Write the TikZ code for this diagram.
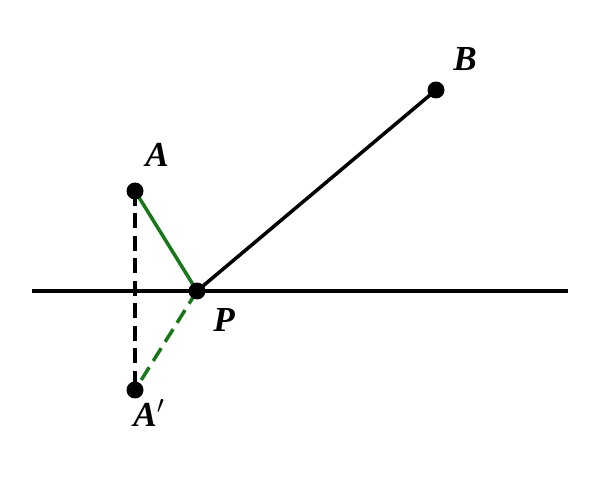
\documentclass[tikz,border=0pt]{standalone}
\usepackage{fontspec}
\setmainfont{Liberation Serif}
\definecolor{pathgreen}{RGB}{25,120,25}
\begin{document}
\begin{tikzpicture}
    [x=0.02cm,y=-0.02cm,
     seg/.style={line width=2pt,black},
     dashseg/.style={line width=2pt,dash pattern=on 0.3cm off 0.15cm},
     pt/.style={circle,fill=black,inner sep=0pt,minimum size=0.34cm},
     lbl/.style={font=\fontsize{20}{24}\selectfont\bfseries\itshape,inner sep=0pt}]
    \useasboundingbox (0,0) rectangle (601,482);
    %the mirror line
    \coordinate (L) at (32,291);
    \coordinate (R) at (568,291);
    \draw[seg] (L) -- (R);

    %the points
    \coordinate (A)  at (135,191);
    \coordinate (B)  at (436,90);
    \coordinate (P)  at (197,291);
    \coordinate (A1) at (135,390);

    %the segments
    \draw[dashseg,black] (A) -- (A1);
    \draw[seg,pathgreen] (A) -- (P);
    \draw[dashseg,pathgreen] (P) -- (A1);
    \draw[seg] (P) -- (B);

    %the dots on top
    \node[pt] (dA)  at (A)  {};
    \node[pt] (dB)  at (B)  {};
    \node[pt] (dP)  at (P)  {};
    \node[pt] (dA1) at (A1) {};

    %the labels
    \node[lbl] (lA)  at (157,155) {A};
    \node[lbl] (lB)  at (465,59)  {B};
    \node[lbl] (lP)  at (224,320) {P};
    \node[lbl] (lA1) at (149,413) {A$'$};
\end{tikzpicture}
\end{document}
